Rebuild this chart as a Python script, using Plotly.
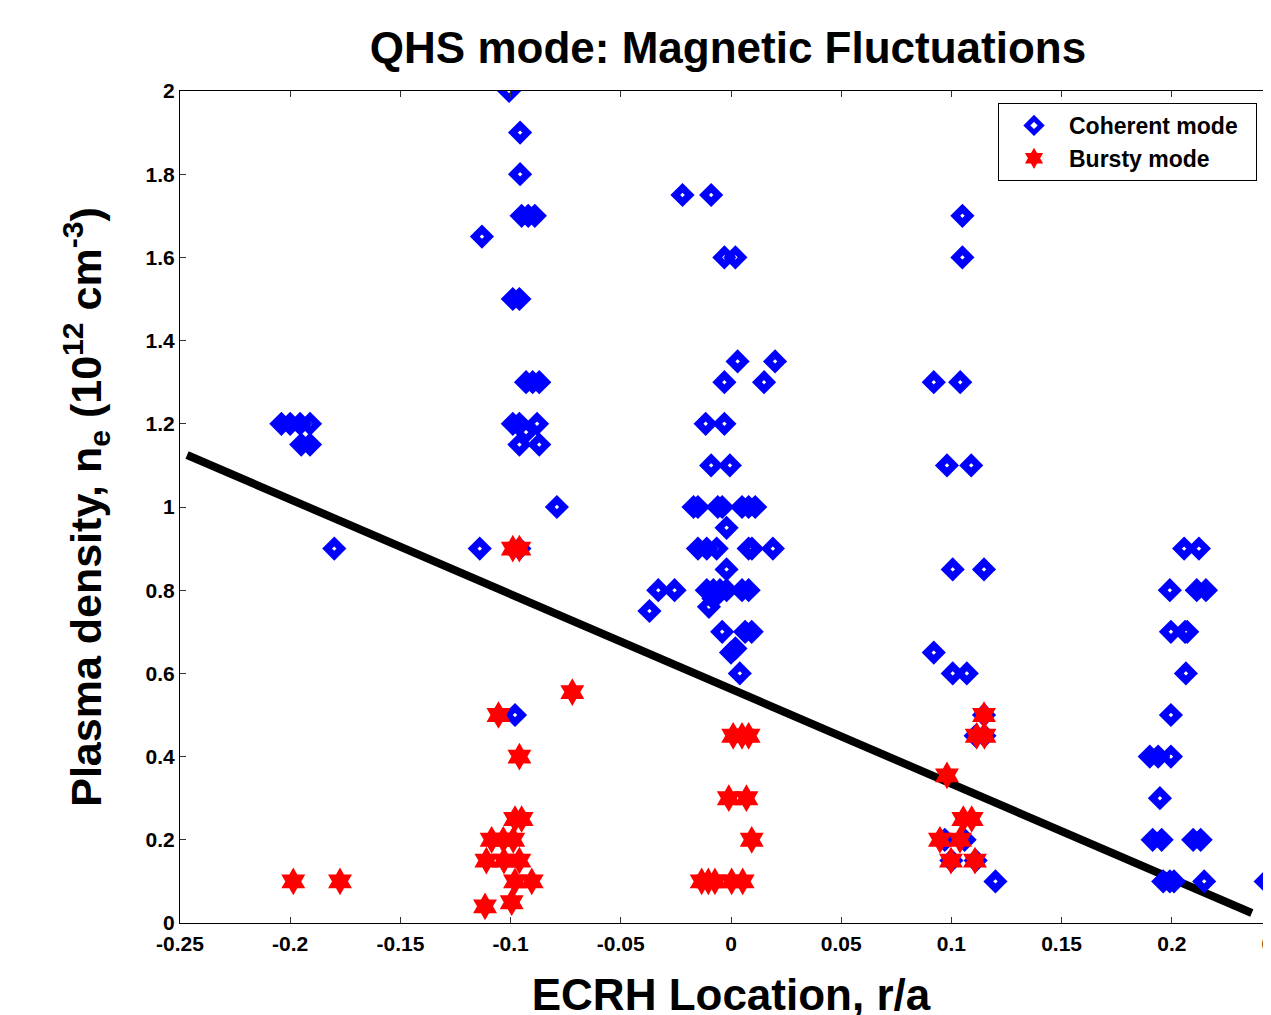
import plotly.graph_objects as go

# ---- data ----
coherent_x = [
    -0.1007, -0.0957, -0.0957, -0.095, -0.092, -0.089, -0.113, -0.099, -0.096,
    -0.093, -0.090, -0.087, -0.099, -0.096, -0.093, -0.088, -0.096, -0.087,
    -0.079, -0.114, -0.096, -0.098,
    -0.204, -0.200, -0.1955, -0.191, -0.195, -0.191, -0.180,
    -0.022, -0.009, -0.003, 0.002, 0.003, 0.020, -0.003, 0.015, -0.0115, -0.003,
    -0.009, -0.0005,
    -0.017, -0.015, -0.006, -0.004, 0.005, 0.008, 0.011,
    -0.002,
    -0.015, -0.011, -0.0065, 0.008, 0.0095, 0.019,
    -0.002,
    -0.033, -0.0256, -0.011, -0.008, -0.005, -0.002, 0.005, 0.008,
    -0.037, -0.010, -0.008,
    -0.004, 0.0064, 0.0094,
    0.000, 0.002, 0.004,
    0.105, 0.105, 0.092, 0.104, 0.098, 0.109, 0.1006, 0.1148, 0.092, 0.1006, 0.107,
    0.1148, 0.111, 0.115, 0.097, 0.106, 0.100, 0.111, 0.120,
    0.2056, 0.2123, 0.1991, 0.2113, 0.2155, 0.1996, 0.206, 0.207, 0.2064, 0.1996,
    0.190, 0.1938, 0.1996, 0.1946, 0.1913, 0.1954, 0.2097, 0.2131,
    0.1961, 0.1991, 0.201, 0.2147, 0.2426,
]
coherent_y = [
    2.0, 1.9, 1.8, 1.7, 1.7, 1.7, 1.65, 1.5, 1.5,
    1.3, 1.3, 1.3, 1.2, 1.2, 1.18, 1.2, 1.15, 1.15,
    1.0, 0.9, 0.9, 0.5,
    1.2, 1.2, 1.2, 1.2, 1.15, 1.15, 0.9,
    1.75, 1.75, 1.6, 1.6, 1.35, 1.35, 1.3, 1.3, 1.2, 1.2,
    1.1, 1.1,
    1.0, 1.0, 1.0, 1.0, 1.0, 1.0, 1.0,
    0.95,
    0.9, 0.9, 0.9, 0.9, 0.9, 0.9,
    0.85,
    0.8, 0.8, 0.8, 0.8, 0.8, 0.8, 0.8, 0.8,
    0.75, 0.76, 0.78,
    0.7, 0.7, 0.7,
    0.65, 0.66, 0.6,
    1.7, 1.6, 1.3, 1.3, 1.1, 1.1, 0.85, 0.85, 0.65, 0.6, 0.6,
    0.5, 0.45, 0.45, 0.2, 0.2, 0.15, 0.15, 0.1,
    0.9, 0.9, 0.8, 0.8, 0.8, 0.7, 0.7, 0.7, 0.6, 0.5,
    0.4, 0.4, 0.4, 0.3, 0.2, 0.2, 0.2, 0.2,
    0.1, 0.1, 0.1, 0.1, 0.1,
]

bursty_x = [
    -0.1986, -0.1774,
    -0.099, -0.096,
    -0.1055, -0.096, -0.072,
    -0.098, -0.095,
    -0.1086, -0.1033, -0.0988,
    -0.111, -0.103, -0.096,
    -0.098, -0.0904,
    -0.1116, -0.0995,
    0.001, 0.005, 0.008, -0.001, 0.007, 0.0094,
    -0.0133, -0.0103, -0.0073, 0.0003, 0.0053,
    0.1148, 0.1115, 0.115, 0.098, 0.1054, 0.1092, 0.0948, 0.1039, 0.0998, 0.1107,
]
bursty_y = [
    0.1, 0.1,
    0.9, 0.9,
    0.5, 0.4, 0.555,
    0.25, 0.25,
    0.2, 0.2, 0.2,
    0.15, 0.15, 0.15,
    0.1, 0.1,
    0.04, 0.05,
    0.45, 0.45, 0.45, 0.3, 0.3, 0.2,
    0.1, 0.1, 0.1, 0.1, 0.1,
    0.5, 0.45, 0.45, 0.355, 0.25, 0.25, 0.2, 0.2, 0.15, 0.15,
]

fit_x = [-0.2468, 0.2363]
fit_y = [1.125, 0.024]

series_names = ["Coherent mode", "Bursty mode"]

x_tickvals = [-0.25, -0.2, -0.15, -0.1, -0.05, 0, 0.05, 0.1, 0.15, 0.2, 0.25]
x_ticktext = ["-0.25", "-0.2", "-0.15", "-0.1", "-0.05", "0", "0.05", "0.1", "0.15", "0.2", "0.25"]
y_tickvals = [0, 0.2, 0.4, 0.6, 0.8, 1.0, 1.2, 1.4, 1.6, 1.8, 2.0]
y_ticktext = ["0", "0.2", "0.4", "0.6", "0.8", "1", "1.2", "1.4", "1.6", "1.8", "2"]

FONT = "Liberation Sans, Arial, sans-serif"
W, H = 1320, 1015
L, R, T, B = 172, 46, 83, 100
PAD = "&nbsp;" * 2  # widen legend box like the reference

fig = go.Figure()
fig.add_trace(go.Scatter(
    x=fit_x, y=fit_y, mode="lines", line=dict(color="black", width=8),
    showlegend=False, hoverinfo="skip"))
fig.add_trace(go.Scatter(
    x=coherent_x, y=coherent_y, mode="markers",
    name="<b>" + series_names[0] + "</b>" + PAD,
    marker=dict(symbol="diamond-open", size=11, color="#0000ff",
                line=dict(color="#0000ff", width=7))))
fig.add_trace(go.Scatter(
    x=bursty_x, y=bursty_y, mode="markers",
    name="<b>" + series_names[1] + "</b>",
    marker=dict(symbol="hexagram", size=21, color="#ff0000",
                line=dict(width=0))))

fig.update_layout(
    width=W, height=H,
    margin=dict(l=L, r=R, t=T, b=B),
    paper_bgcolor="white", plot_bgcolor="white",
    font=dict(family=FONT, color="black"),
    title=dict(text="<b>QHS mode: Magnetic Fluctuations</b>",
               font=dict(size=44, family=FONT, color="black"),
               x=720 / W, xanchor="center", y=1 - 40 / H, yanchor="middle"),
    legend=dict(x=0.7423, y=0.9856, xanchor="left", yanchor="top",
                bgcolor="white", bordercolor="black", borderwidth=1,
                font=dict(size=23, family=FONT, color="black"),
                itemsizing="trace", itemwidth=60, tracegroupgap=0),
    xaxis=dict(range=[-0.25, 0.25], tickvals=x_tickvals, ticktext=x_ticktext,
               ticks="inside", ticklen=6, tickcolor="#333", mirror="ticks",
               showline=True, linecolor="black", linewidth=1, showgrid=False,
               zeroline=False, automargin=False, ticklabelstandoff=2,
               ticklabeloverflow="allow",
               tickfont=dict(size=21, family=FONT, color="black", weight="bold"),
               title=dict(text="<b>ECRH Location, r/a</b>", standoff=24,
                          font=dict(size=44, family=FONT, color="black"))),
    yaxis=dict(range=[0, 2], tickvals=y_tickvals, ticktext=y_ticktext,
               ticks="inside", ticklen=6, tickcolor="#333", mirror="ticks",
               showline=True, linecolor="black", linewidth=1, showgrid=False,
               zeroline=False, automargin=False,
               tickfont=dict(size=21, family=FONT, color="black", weight="bold"),
               title=dict(text="<b>Plasma density, n<sub>e</sub> (10<sup>12</sup> cm<sup>-3</sup>)</b>",
                          standoff=30,
                          font=dict(size=43, family=FONT, color="black"))),
)

fig.write_html("out.html")
